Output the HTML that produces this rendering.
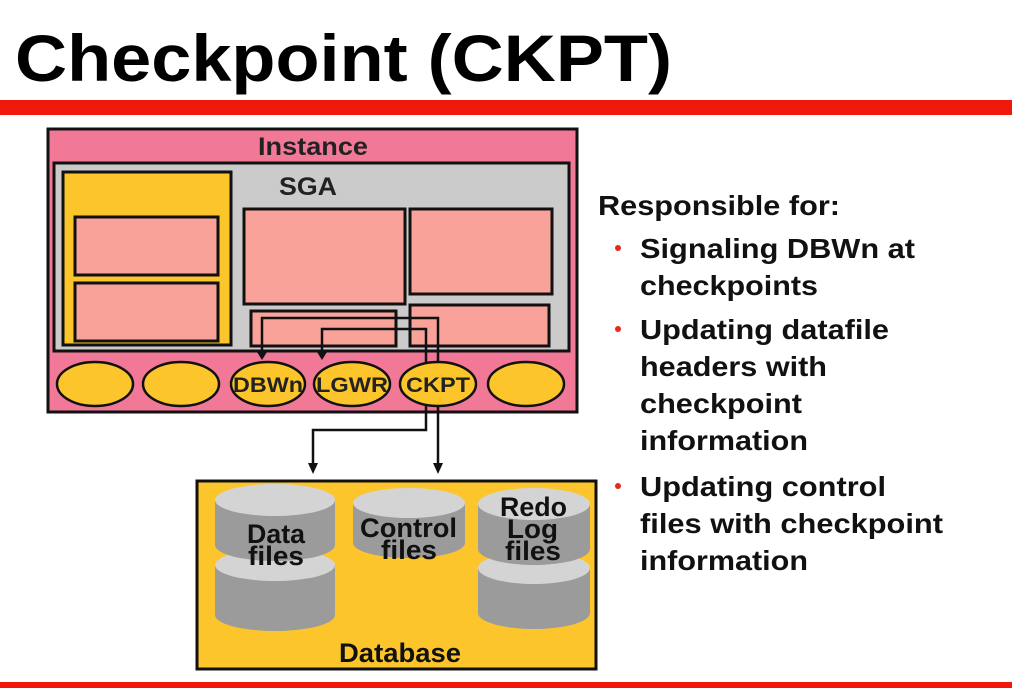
<!DOCTYPE html>
<html><head><style>
html,body{margin:0;padding:0;background:#fff;}
svg{display:block;font-family:"Liberation Sans",sans-serif;}
</style></head><body>
<svg width="1012" height="688" viewBox="0 0 1012 688">
<rect width="1012" height="688" fill="#fff"/>
<text x="15" y="81" font-size="66" font-weight="bold" textLength="657" lengthAdjust="spacingAndGlyphs">Checkpoint (CKPT)</text>
<rect x="0" y="100" width="1012" height="15" fill="#f0180a"/>
<rect x="0" y="682" width="1012" height="6" fill="#f0180a"/>

<!-- Instance -->
<rect x="48" y="129" width="529" height="283" fill="#f27898" stroke="#111" stroke-width="3"/>
<text x="258" y="155" font-size="25" font-weight="bold" fill="#222" textLength="110" lengthAdjust="spacingAndGlyphs">Instance</text>
<rect x="54" y="163" width="515" height="188" fill="#cbcbcb" stroke="#111" stroke-width="3"/>
<text x="279" y="195" font-size="25" font-weight="bold" fill="#222" textLength="58" lengthAdjust="spacingAndGlyphs">SGA</text>
<rect x="63" y="172" width="168" height="173" fill="#fcc52c" stroke="#111" stroke-width="3"/>
<rect x="75" y="217" width="143" height="58" fill="#f9a29a" stroke="#111" stroke-width="3"/>
<rect x="75" y="283" width="143" height="58" fill="#f9a29a" stroke="#111" stroke-width="3"/>
<rect x="244" y="209" width="161" height="95" fill="#f9a29a" stroke="#111" stroke-width="3"/>
<rect x="410" y="209" width="142" height="85" fill="#f9a29a" stroke="#111" stroke-width="3"/>
<rect x="251" y="311" width="145" height="35" fill="#f9a29a" stroke="#111" stroke-width="3"/>
<rect x="410" y="305" width="139" height="41" fill="#f9a29a" stroke="#111" stroke-width="3"/>

<!-- ellipses -->
<g fill="#fcc52c" stroke="#111" stroke-width="2.5">
<ellipse cx="95" cy="384" rx="38" ry="22"/>
<ellipse cx="181" cy="384" rx="38" ry="22"/>
<ellipse cx="268" cy="384" rx="37" ry="22"/>
<ellipse cx="352" cy="384" rx="38" ry="22"/>
<ellipse cx="438" cy="384" rx="38" ry="22"/>
<ellipse cx="526" cy="384" rx="38" ry="22"/>
</g>
<g font-size="21" font-weight="bold" fill="#222" lengthAdjust="spacingAndGlyphs">
<text x="233" y="392" textLength="70" lengthAdjust="spacingAndGlyphs">DBWn</text>
<text x="316" y="392" textLength="72" lengthAdjust="spacingAndGlyphs">LGWR</text>
<text x="406" y="392" textLength="64" lengthAdjust="spacingAndGlyphs">CKPT</text>
</g>

<!-- connectors -->
<g fill="none" stroke="#111" stroke-width="2.5">
<polyline points="262,356 262,318 438,318 438,362"/>
<polyline points="322,356 322,329 426,329 426,362"/>
<polyline points="426,406 426,430 313,430 313,465"/>
<polyline points="438,406 438,465"/>
</g>
<g fill="#111">
<polygon points="257,352 267,352 262,360"/>
<polygon points="317,352 327,352 322,360"/>
<polygon points="308,463 318,463 313,474"/>
<polygon points="433,463 443,463 438,474"/>
</g>

<!-- Database -->
<rect x="197" y="481" width="399" height="188" fill="#fcc52c" stroke="#111" stroke-width="3"/>
<g fill="#9b9b9b">
<path d="M215,565 v50 a60,16 0 0 0 120,0 v-50 z"/>
<ellipse cx="275" cy="565" rx="60" ry="16" fill="#d4d4d4"/>
<path d="M215,500 v45 a60,16 0 0 0 120,0 v-45 z"/>
<ellipse cx="275" cy="500" rx="60" ry="16" fill="#d4d4d4"/>
<path d="M353,503 v40 a56,15 0 0 0 112,0 v-40 z"/>
<ellipse cx="409" cy="503" rx="56" ry="15" fill="#d4d4d4"/>
<path d="M478,568 v45 a56,16 0 0 0 112,0 v-45 z"/>
<ellipse cx="534" cy="568" rx="56" ry="16" fill="#d4d4d4"/>
<path d="M478,504 v45 a56,16 0 0 0 112,0 v-45 z"/>
<ellipse cx="534" cy="504" rx="56" ry="16" fill="#d4d4d4"/>
</g>
<g font-size="27" font-weight="bold" fill="#111">
<text x="247" y="543" textLength="58" lengthAdjust="spacingAndGlyphs">Data</text>
<text x="248" y="565" textLength="56" lengthAdjust="spacingAndGlyphs">files</text>
<text x="360" y="537" textLength="97" lengthAdjust="spacingAndGlyphs">Control</text>
<text x="381" y="559" textLength="56" lengthAdjust="spacingAndGlyphs">files</text>
<text x="500" y="516" textLength="67" lengthAdjust="spacingAndGlyphs">Redo</text>
<text x="507" y="538" textLength="51" lengthAdjust="spacingAndGlyphs">Log</text>
<text x="505" y="560" textLength="56" lengthAdjust="spacingAndGlyphs">files</text>
<text x="339" y="662" textLength="122" lengthAdjust="spacingAndGlyphs">Database</text>
</g>

<!-- right text -->
<g font-size="28" font-weight="bold" fill="#111">
<text x="598" y="215" textLength="242" lengthAdjust="spacingAndGlyphs">Responsible for:</text>
<text x="640" y="258" textLength="275" lengthAdjust="spacingAndGlyphs">Signaling DBWn at</text>
<text x="640" y="295" textLength="178" lengthAdjust="spacingAndGlyphs">checkpoints</text>
<text x="640" y="339" textLength="249" lengthAdjust="spacingAndGlyphs">Updating datafile</text>
<text x="640" y="376" textLength="187" lengthAdjust="spacingAndGlyphs">headers with</text>
<text x="640" y="413" textLength="162" lengthAdjust="spacingAndGlyphs">checkpoint</text>
<text x="640" y="450" textLength="168" lengthAdjust="spacingAndGlyphs">information</text>
<text x="640" y="496" textLength="246" lengthAdjust="spacingAndGlyphs">Updating control</text>
<text x="640" y="533" textLength="303" lengthAdjust="spacingAndGlyphs">files with checkpoint</text>
<text x="640" y="570" textLength="168" lengthAdjust="spacingAndGlyphs">information</text>
</g>
<g fill="#e8281a">
<circle cx="618" cy="248" r="3"/>
<circle cx="618" cy="329" r="3"/>
<circle cx="618" cy="486" r="3"/>
</g>
</svg>
</body></html>
